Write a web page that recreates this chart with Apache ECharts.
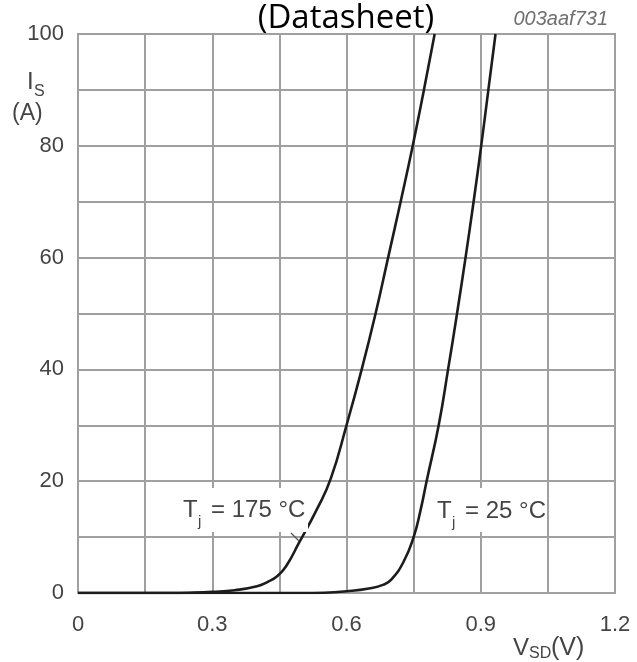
<!DOCTYPE html>
<html>
<head>
<meta charset="utf-8">
<script src="https://cdn.jsdelivr.net/npm/echarts@6/dist/echarts.min.js"></script>
<style>
  html, body { margin: 0; padding: 0; background: #fff; }
  #chart { width: 637px; height: 662px; }
</style>
</head>
<body>
<div id="chart"></div>
<script>
// Tj = 175 °C curve
const vsd175 = [0, 0.1, 0.2, 0.25, 0.3, 0.35, 0.4, 0.424, 0.445, 0.465, 0.494, 0.534, 0.565, 0.6, 0.634, 0.665, 0.693, 0.721, 0.748, 0.773, 0.797];
const is175 = [0, 0, 0, 0.05, 0.2, 0.5, 1.2, 2.0, 3.0, 4.8, 9.0, 15, 20.5, 30, 40, 50, 60, 70, 80, 90, 100];
// Tj = 25 °C curve
const vsd25 = [0, 0.3, 0.5, 0.55, 0.6, 0.65, 0.683, 0.7, 0.727, 0.75, 0.766, 0.779, 0.806, 0.827, 0.847, 0.866, 0.884, 0.901, 0.917, 0.933];
const is25 = [0, 0, 0, 0.05, 0.3, 0.8, 1.5, 2.4, 5.5, 10, 15, 20, 30, 40, 50, 60, 70, 80, 90, 100];
// tick labels (every second grid line carries one)
const xLabels = ['0', '0.3', '0.6', '0.9', '1.2'];
const yLabels = ['0', '20', '40', '60', '80', '100'];

const gridColor = '#a0a0a0';
const textColor = '#444';
const curveColor = '#1c1c1c';
const tickFont = 'Liberation Sans';

const chart = echarts.init(document.getElementById('chart'));

// annotation text pieces (pixel placement, not data)
function txt(text, x, y, size, opts) {
    return Object.assign({
        type: 'text',
        z: 100,
        style: {
            text: text,
            x: x,
            y: y,
            fill: textColor,
            font: size + 'px "' + tickFont + '"',
            align: 'left',
            verticalAlign: 'middle'
        }
    }, opts || {});
}

chart.setOption({
    animation: false,
    backgroundColor: '#fff',
    grid: {
        left: 78,
        right: 22,
        top: 34,
        bottom: 69,
        show: true,
        borderColor: gridColor,
        borderWidth: 2
    },
    xAxis: {
        type: 'value',
        min: 0,
        max: 1.2,
        interval: 0.15,
        axisLine: { show: false },
        axisTick: { show: false },
        splitLine: { show: true, lineStyle: { color: gridColor, width: 2 } },
        axisLabel: {
            margin: 21,
            color: textColor,
            fontSize: 22,
            fontFamily: tickFont,
            showMinLabel: true,
            showMaxLabel: true,
            formatter: function (v) {
                const k = Math.round(v / 0.15);
                return k % 2 === 0 ? xLabels[k / 2] : '';
            }
        }
    },
    yAxis: {
        type: 'value',
        min: 0,
        max: 100,
        interval: 10,
        axisLine: { show: false },
        axisTick: { show: false },
        splitLine: { show: true, lineStyle: { color: gridColor, width: 2 } },
        axisLabel: {
            margin: 14,
            color: textColor,
            fontSize: 22,
            fontFamily: tickFont,
            showMinLabel: true,
            showMaxLabel: true,
            formatter: function (v) {
                const k = Math.round(v / 10);
                return k % 2 === 0 ? yLabels[k / 2] : '';
            }
        }
    },
    series: [
        {
            name: 'Tj = 175 °C',
            type: 'line',
            data: vsd175.map((v, i) => [v, is175[i]]),
            showSymbol: false,
            smooth: 0.5,
            lineStyle: { color: curveColor, width: 2.6 },
            z: 5
        },
        {
            name: 'Tj = 25 °C',
            type: 'line',
            data: vsd25.map((v, i) => [v, is25[i]]),
            showSymbol: false,
            smooth: 0.5,
            lineStyle: { color: curveColor, width: 2.6 },
            z: 5
        }
    ],
    graphic: [
        {
            type: 'text',
            z: 100,
            style: {
                text: '(Datasheet)',
                x: 346,
                y: 19,
                fill: '#000',
                font: '33px "Open Sans"',
                align: 'center',
                verticalAlign: 'middle'
            }
        },
        {
            type: 'text',
            z: 100,
            style: {
                text: '003aaf731',
                x: 608,
                y: 19,
                fill: '#6f6f6f',
                font: 'italic 20px "' + tickFont + '"',
                align: 'right',
                verticalAlign: 'middle'
            }
        },
        // y axis name: I_S (A)
        txt('I', 27, 82, 24),
        txt('S', 34, 92, 16),
        txt('(A)', 12, 114, 23),
        // x axis name: V_SD (V)
        txt('V', 513, 648, 24),
        txt('SD', 529, 654, 16),
        txt('(V)', 551, 648, 25),
        // curve labels with white backing
        { type: 'rect', z: 90, shape: { x: 180, y: 488, width: 128, height: 44 }, style: { fill: '#fff' } },
        txt('T', 183, 510, 24),
        txt('j', 198, 522, 15),
        txt('= 175 °C', 211, 510, 24),
        { type: 'rect', z: 90, shape: { x: 434, y: 488, width: 112, height: 44 }, style: { fill: '#fff' } },
        txt('T', 437, 511, 24),
        txt('j', 452, 523, 15),
        txt('= 25 °C', 465, 511, 24),
        // leader from the 175 °C label to its curve
        {
            type: 'line',
            z: 100,
            shape: { x1: 291, y1: 533, x2: 299, y2: 541 },
            style: { stroke: '#555', lineWidth: 1.2 }
        }
    ]
});
</script>
</body>
</html>
